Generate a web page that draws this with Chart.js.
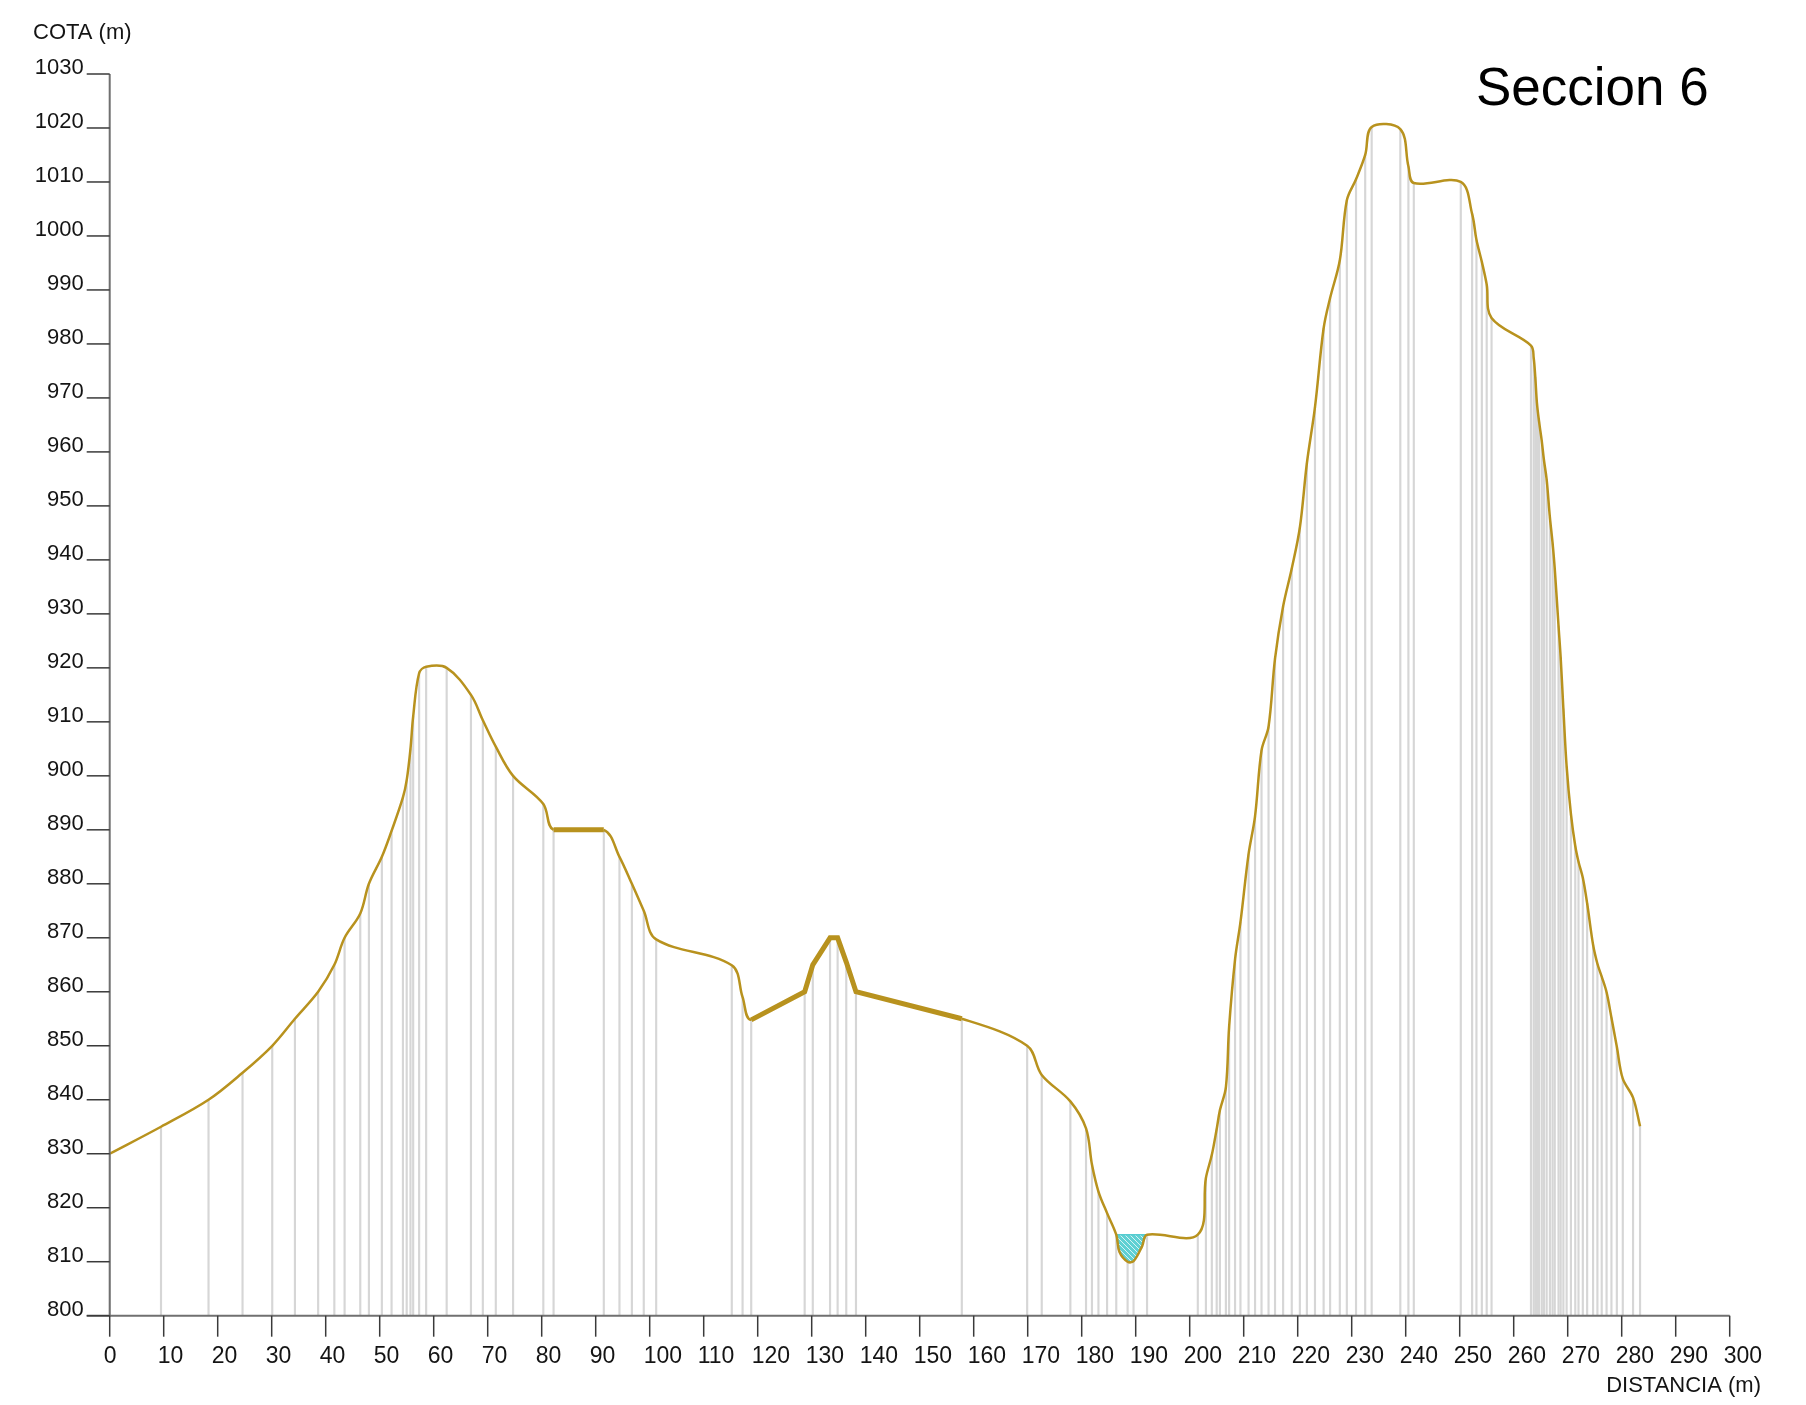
<!DOCTYPE html>
<html lang="es">
<head>
<meta charset="UTF-8">
<title>Seccion 6</title>
<script src="https://cdn.jsdelivr.net/npm/chart.js@4.4.1/dist/chart.umd.min.js"></script>
<style>
	html, body { margin: 0; padding: 0; background: #fff; }
	#caja { width: 1806px; height: 1405px; }
</style>
</head>
<body>
<div id="caja"><canvas id="seccion" width="1806" height="1405"></canvas></div>
<script>
// perfil del terreno: distancia (m) y cota (m) de cada punto
const distancias = [
	0, 9.5, 18.3, 24.6, 30.1, 34.3, 38.6, 41.6, 43.5, 46.4, 48.0, 50.4, 52.2, 54.3, 55.0, 55.7, 56.2, 57.3, 58.6,
	62.4, 66.9, 69.1, 71.5, 74.7, 80.3, 82.2, 91.5, 94.4, 96.7, 98.9, 101.2, 115.2, 117.2, 118.8,
	128.7, 130.2, 133.4, 134.8, 136.4, 138.2, 157.8, 169.9, 172.6, 177.9, 180.8, 181.9, 183.1, 184.7,
	186.4, 187.0, 188.5, 189.6, 191.2, 192.1, 201.5, 203.0, 204.1, 205.0, 205.6, 206.7, 207.3, 208.4, 209.4, 210.9,
	212.1, 213.3, 214.6, 215.8, 217.3, 218.9, 220.4, 221.7, 223.2, 224.8, 226.0, 227.8, 229.1, 230.8,
	232.5, 233.7, 239.0, 240.5, 241.5, 250.2, 252.3, 253.1, 254.1, 255.0, 255.9, 263.2, 263.7, 264.0,
	264.3, 264.7, 265.2, 265.6, 266.1, 266.7, 267.2, 267.6, 268.3, 268.7, 269.2, 269.8, 270.6, 271.4,
	272.0, 272.8, 273.6, 274.7, 275.5, 276.3, 277.2, 278.1, 279.1, 280.2, 282.1, 283.4
];
const cotas = [
	830, 835, 840, 845, 850, 855, 860, 865, 870, 874.5, 880, 885, 889.8, 896, 899.2, 905, 911, 919, 920.2,
	920, 915, 910.3, 905.4, 900, 894.8, 890, 890, 885, 880, 875, 869.7, 864.9, 859, 854.8,
	860, 865, 870, 870, 865.5, 860, 855, 850, 844.6, 839.7, 834.7, 828, 823, 819,
	815, 811.8, 810, 810.1, 812.9, 815, 815, 825.5, 829.8, 834.6, 838.1, 842.3, 853.5, 866, 872.9, 885.5,
	892.5, 904.7, 909.1, 921.7, 931.4, 938.4, 946, 957.9, 968.3, 982.9, 988.5, 995.5, 1006.6, 1010.5,
	1015, 1020.2, 1019.8, 1012.9, 1009.8, 1010, 1004.1, 999.3, 995.2, 991, 984.8, 979.7, 977.4, 973.8,
	969.1, 965.6, 962, 958.5, 954.9, 947.9, 943.1, 938.4, 927.8, 921.9, 912.4, 901.8, 892.9, 887,
	884.1, 881.1, 876.4, 868.7, 865.2, 862.8, 859.9, 855.2, 849.8, 843.9, 840.4, 835.1
];
// puntos del fondo del cauce que no llevan estaca
const sinEstaca = [187.0, 191.2];

// tramos que van en recta gruesa (desde, hasta)
const tramosRectos = [[82.2, 91.5], [118.8, 157.8]];

// lamina de agua
const nivelAgua = 815;
const aguaDesde = 186.4;
const aguaHasta = 192.1;

const ticksX = [0, 10, 20, 30, 40, 50, 60, 70, 80, 90, 100, 110, 120, 130, 140, 150, 160, 170, 180, 190,
	200, 210, 220, 230, 240, 250, 260, 270, 280, 290, 300];
const ticksY = [800, 810, 820, 830, 840, 850, 860, 870, 880, 890, 900, 910, 920, 930, 940, 950, 960, 970,
	980, 990, 1000, 1010, 1020, 1030];

const titulo = 'Seccion 6';
const tituloY = 'COTA (m)';
const tituloX = 'DISTANCIA (m)';

const COLOR_TERRENO = '#b8921e';
const TENSION = 0.35;
const FUENTE = '"Liberation Sans", Arial, Helvetica, sans-serif';

const puntos = distancias.map((d, i) => ({ x: d, y: cotas[i] }));

function enTramoRecto(a, b){
	return tramosRectos.some(t => a >= t[0] && b <= t[1]);
}

// puntos de los tramos rectos, con un hueco entre uno y otro
let puntosRectos = [];
tramosRectos.forEach((t, k) => {
	if(k > 0) puntosRectos.push({ x: (tramosRectos[k - 1][1] + t[0]) / 2, y: null });
	puntos.forEach(p => { if(p.x >= t[0] && p.x <= t[1]) puntosRectos.push(p); });
});

// fondo del cauce bajo el agua (se rellena hasta el nivel)
const puntosCauce = puntos.filter(p => p.x >= aguaDesde && p.x <= aguaHasta);

// estacas: linea gris desde la base hasta el terreno
const estacas = puntos
	.filter(p => !sinEstaca.includes(p.x))
	.map(p => ({ x: p.x, y: [ticksY[0], p.y] }));

// trama rayada del agua
function tramaAgua(){
	const c = document.createElement('canvas');
	c.width = 5; c.height = 5;
	const g = c.getContext('2d');
	g.fillStyle = '#5fd0d3';
	g.fillRect(0, 0, 5, 5);
	g.strokeStyle = 'rgba(255,255,255,0.75)';
	g.lineWidth = 1;
	g.beginPath();
	g.moveTo(-1, -1); g.lineTo(6, 6);
	g.stroke();
	return g.createPattern(c, 'repeat');
}

// ejes, marcas y textos
const ejes = {
	id: 'ejes',
	afterDraw(chart){
		const { ctx, scales: { x, y } } = chart;
		const x0 = x.getPixelForValue(ticksX[0]);
		const y0 = y.getPixelForValue(ticksY[0]);
		const yTop = y.getPixelForValue(ticksY[ticksY.length - 1]);
		const xFin = x.getPixelForValue(ticksX[ticksX.length - 1]);
		ctx.save();

		ctx.strokeStyle = '#707070';
		ctx.lineWidth = 2;
		ctx.beginPath();
		ctx.moveTo(x0, yTop); ctx.lineTo(x0, y0);
		ctx.moveTo(x0 - 23, y0); ctx.lineTo(xFin, y0);
		ctx.stroke();

		ctx.fillStyle = '#141414';
		ctx.strokeStyle = '#3a3a3a';
		ctx.lineWidth = 1.5;

		ctx.font = '22px ' + FUENTE;
		ctx.textAlign = 'right';
		ctx.textBaseline = 'alphabetic';
		ticksY.forEach(v => {
			const py = y.getPixelForValue(v);
			ctx.beginPath(); ctx.moveTo(x0 - 23, py); ctx.lineTo(x0, py); ctx.stroke();
			ctx.fillText(v, x0 - 26, py);
		});

		ctx.font = '23px ' + FUENTE;
		ctx.textAlign = 'left';
		ticksX.forEach(v => {
			const px = x.getPixelForValue(v);
			ctx.beginPath(); ctx.moveTo(px, y0); ctx.lineTo(px, y0 + 21); ctx.stroke();
			ctx.fillText(v, px - 6, y0 + 47);
		});

		ctx.font = '22px ' + FUENTE;
		ctx.textAlign = 'left';
		ctx.fillText(tituloY, 33, 39);
		ctx.textAlign = 'right';
		ctx.fillText(tituloX, 1761, 1392);

		ctx.font = '53px ' + FUENTE;
		ctx.textAlign = 'left';
		ctx.fillStyle = '#000';
		ctx.fillText(titulo, 1476, 105);
		ctx.restore();
	}
};

new Chart(document.getElementById('seccion'), {
	type: 'line',
	data: {
		datasets: [
			{
				label: 'terreno',
				data: puntos,
				borderColor: COLOR_TERRENO,
				borderWidth: 2.5,
				tension: TENSION,
				pointRadius: 0,
				fill: false,
				segment: {
					borderColor: c => enTramoRecto(c.p0.parsed.x, c.p1.parsed.x) ? 'rgba(0,0,0,0)' : COLOR_TERRENO
				}
			},
			{
				label: 'tramo recto',
				data: puntosRectos,
				borderColor: COLOR_TERRENO,
				borderWidth: 5,
				tension: 0,
				pointRadius: 0,
				spanGaps: false,
				fill: false
			},
			{
				label: 'nivel agua',
				data: [{ x: aguaDesde, y: nivelAgua }, { x: aguaHasta, y: nivelAgua }],
				borderColor: '#55cbd0',
				borderWidth: 1.5,
				pointRadius: 0,
				fill: false
			},
			{
				label: 'agua',
				data: puntosCauce,
				borderWidth: 0,
				borderColor: 'rgba(0,0,0,0)',
				tension: TENSION,
				pointRadius: 0,
				backgroundColor: tramaAgua(),
				fill: { value: nivelAgua }
			},
			{
				type: 'bar',
				label: 'estacas',
				data: estacas,
				backgroundColor: '#d6d6d6',
				barThickness: 1.5,
				grouped: false,
				borderWidth: 0
			}
		]
	},
	options: {
		responsive: false,
		animation: false,
		events: [],
		layout: { padding: { left: 109.7, right: 76.3, top: 74, bottom: 89.3 } },
		scales: {
			x: { type: 'linear', display: false, min: 0, max: 300, offset: false },
			y: { type: 'linear', display: false, min: 800, max: 1030 }
		},
		plugins: {
			legend: { display: false },
			tooltip: { enabled: false },
			title: { display: false }
		}
	},
	plugins: [ejes]
});
</script>
</body>
</html>
